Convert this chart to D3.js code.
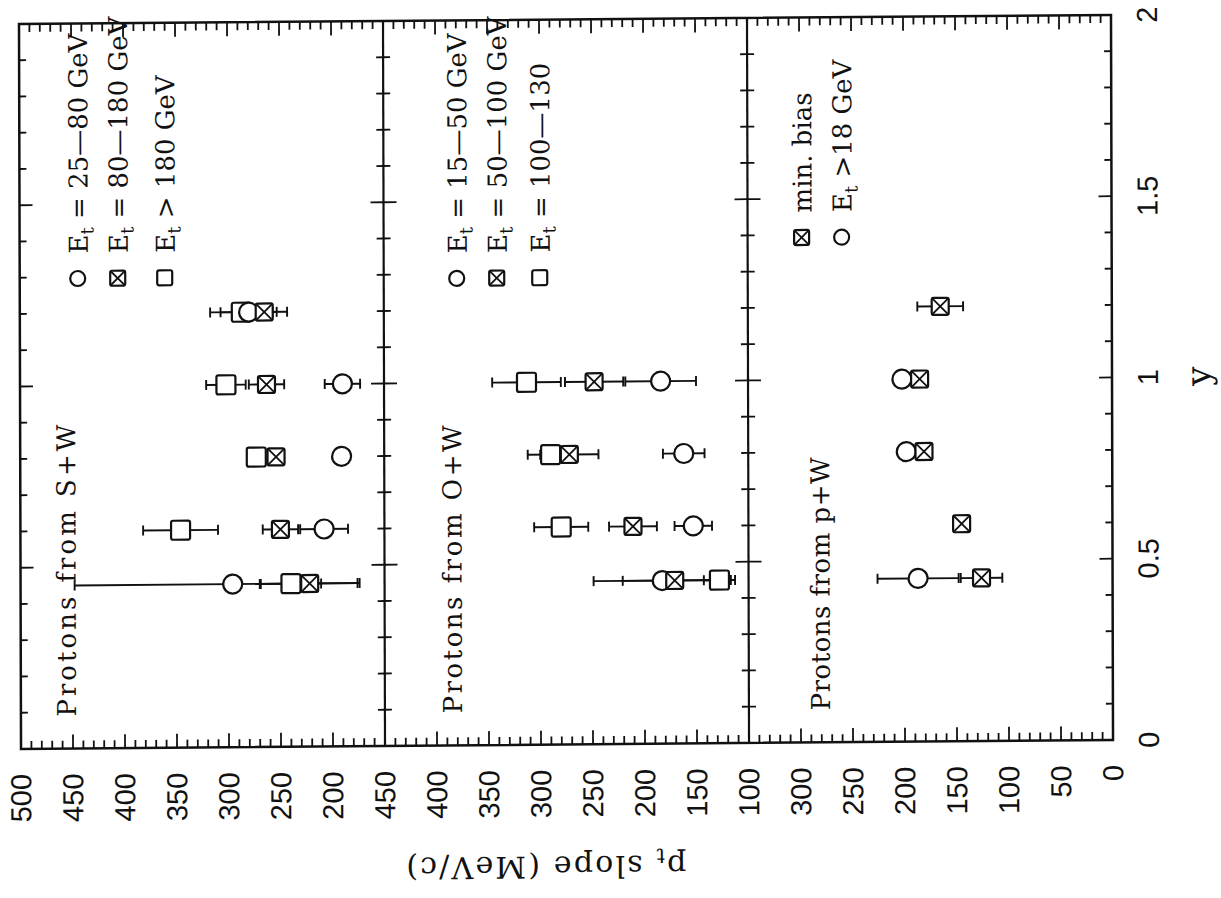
<!DOCTYPE html>
<html lang="en">
  <head>
    <meta charset="utf-8">
    <title>Proton pt slopes vs rapidity</title>
    <script src="https://d3js.org/d3.v7.min.js"></script>
    <style>
      body { margin: 0; background: white; }
      .num { font-family: "Liberation Sans", Arial, sans-serif; font-size: 29px; fill: #111; }
      .serif { font-family: "DejaVu Serif", serif; fill: #111; }
      line, rect, circle { stroke: #111; }
    </style>
  </head>
  <body>
    <script>
      var width = 1221, height = 898;

      // point = [rapidity, pt slope, err minus, err plus]
      // S+W
      var swEt25 = [[0.45, 296, 120, 152], [0.6, 208, 23, 23], [0.8, 191, 5, 5], [1.0, 190, 17, 17], [1.2, 280, 27, 27]];
      var swEt80 = [[0.45, 222, 48, 48], [0.6, 250, 17, 17], [0.8, 254, 6, 6], [1.0, 263, 17, 17], [1.2, 265, 22, 22]];
      var swEt180 = [[0.45, 240, 29, 29], [0.6, 346, 36, 36], [0.8, 273, 6, 6], [1.0, 302, 19, 19], [1.2, 287, 30, 30]];
      // O+W
      var owEt15 = [[0.45, 183, 66, 66], [0.6, 153, 18, 18], [0.8, 162, 20, 20], [1.0, 184, 34, 34]];
      var owEt50 = [[0.45, 171, 50, 50], [0.6, 211, 23, 23], [0.8, 272, 28, 28], [1.0, 248, 28, 28]];
      var owEt100 = [[0.45, 128, 15, 15], [0.6, 280, 26, 26], [0.8, 290, 22, 22], [1.0, 313, 33, 33]];
      // p+W
      var pwMinBias = [[0.45, 126, 20, 20], [0.6, 145, 5, 5], [0.8, 181, 5, 5], [1.0, 185, 5, 5], [1.2, 165, 22, 22]];
      var pwEt18 = [[0.45, 187, 39, 39], [0.8, 198, 5, 5], [1.0, 202, 5, 5]];

      var ptDomains = [[500, 150], [450, 100], [350, 0]];
      var ptLabels = [[500, 450, 400, 350, 300, 250, 200], [450, 400, 350, 300, 250, 200, 150, 100], [300, 250, 200, 150, 100, 50, 0]];
      var rapLabels = [0, 0.5, 1, 1.5, 2];
      var panelNames = ["Protons from S+W", "Protons from O+W", "Protons from p+W"];
      var legendS = ["Et = 25—80 GeV", "Et = 80—180 GeV", "Et > 180 GeV"];
      var legendO = ["Et = 15—50 GeV", "Et = 50—100 GeV", "Et = 100—130"];
      var legendP = ["min. bias", "Et >18 GeV"];

      var panels = [
        { series: [[swEt180, "square"], [swEt25, "circle"], [swEt80, "cross"]],
          legend: [["circle", legendS[0]], ["cross", legendS[1]], ["square", legendS[2]]],
          legX: [78, 118, 165], legY: 275, nameX: 75, nameLen: 292 },
        { series: [[owEt100, "square"], [owEt15, "circle"], [owEt50, "cross"]],
          legend: [["circle", legendO[0]], ["cross", legendO[1]], ["square", legendO[2]]],
          legX: [457, 497, 540], legY: 278, nameX: 461, nameLen: 288 },
        { series: [[pwEt18, "circle"], [pwMinBias, "cross"]],
          legend: [["cross", legendP[0]], ["circle", legendP[1]]],
          legX: [802, 842], legY: 240, nameX: 829, nameLen: 253 }
      ];

      var frameL = 20, frameR = 1112, frameT = 20, frameB = 745;
      var pw = (frameR - frameL) / 3;

      var svg = d3.select("body").append("svg")
        .attr("width", width)
        .attr("height", height);

      // the scan is slightly skewed
      var g = svg.append("g")
        .attr("transform", "matrix(1,-0.0083,0.0028,1,-1.06,4.17)");

      var yScale = d3.scaleLinear().domain([0, 2]).range([frameB, frameT]);

      function drawMarker(sel, type, s) {
        if (type === "circle") {
          sel.append("circle").attr("r", s / 2).attr("fill", "white").attr("stroke-width", 2.2);
        } else {
          sel.append("rect").attr("x", -s / 2).attr("y", -s / 2).attr("width", s).attr("height", s)
            .attr("rx", 2).attr("fill", "white").attr("stroke-width", 2.2);
          if (type === "cross") {
            sel.append("line").attr("x1", -s / 2).attr("y1", -s / 2).attr("x2", s / 2).attr("y2", s / 2).attr("stroke-width", 1.8);
            sel.append("line").attr("x1", -s / 2).attr("y1", s / 2).attr("x2", s / 2).attr("y2", -s / 2).attr("stroke-width", 1.8);
          }
        }
      }

      function etText(sel, str) {
        if (str.indexOf("Et") === 0) {
          sel.append("tspan").text("E");
          sel.append("tspan").attr("dy", 6).attr("font-size", "70%").text("t");
          sel.append("tspan").attr("dy", -6).text(str.slice(2));
        } else {
          sel.text(str);
        }
      }

      panels.forEach(function(p, i) {
        var x = d3.scaleLinear().domain(ptDomains[i]).range([frameL + i * pw, frameL + (i + 1) * pw]);
        var pg = g.append("g");
        var lo = d3.min(ptDomains[i]), hi = d3.max(ptDomains[i]);

        // pt ticks on both long edges
        var ptTicks = d3.range(lo, hi + 1, 10);
        pg.selectAll(".tb").data(ptTicks).enter().append("line")
          .attr("x1", d => x(d)).attr("x2", d => x(d))
          .attr("y1", frameB).attr("y2", d => frameB - (d % 50 === 0 ? 14 : 8))
          .attr("stroke-width", 1.8);
        pg.selectAll(".tt").data(ptTicks).enter().append("line")
          .attr("x1", d => x(d)).attr("x2", d => x(d))
          .attr("y1", frameT).attr("y2", d => frameT + (d % 50 === 0 ? 14 : 8))
          .attr("stroke-width", 1.8);

        // rapidity ticks on both panel edges
        var rk = d3.range(1, 20);
        var xl = frameL + i * pw, xr = frameL + (i + 1) * pw;
        pg.selectAll(".rl").data(rk).enter().append("line")
          .attr("x1", xl).attr("x2", d => xl + (d % 5 === 0 ? 13 : 7))
          .attr("y1", d => yScale(d / 10)).attr("y2", d => yScale(d / 10))
          .attr("stroke-width", 1.8);
        pg.selectAll(".rr").data(rk).enter().append("line")
          .attr("x1", xr).attr("x2", d => xr - (d % 5 === 0 ? 13 : 7))
          .attr("y1", d => yScale(d / 10)).attr("y2", d => yScale(d / 10))
          .attr("stroke-width", 1.8);

        // tick labels
        pg.selectAll(".pl").data(ptLabels[i]).enter().append("text")
          .attr("class", "num")
          .attr("x", d => x(d)).attr("y", 770)
          .attr("text-anchor", "end")
          .attr("dominant-baseline", "central")
          .attr("transform", d => "rotate(-90," + x(d) + ",770)")
          .text(d => d);

        // error bars
        p.series.forEach(function(s) {
          var eg = pg.append("g").attr("stroke-width", 1.9);
          var pts = s[0].filter(d => d[2] > 7);
          eg.selectAll(".eb").data(pts).enter().append("line")
            .attr("x1", d => x(d[1] + d[3])).attr("x2", d => x(d[1] - d[2]))
            .attr("y1", d => yScale(d[0])).attr("y2", d => yScale(d[0]));
          eg.selectAll(".c1").data(pts).enter().append("line")
            .attr("x1", d => x(d[1] + d[3])).attr("x2", d => x(d[1] + d[3]))
            .attr("y1", d => yScale(d[0]) - 5).attr("y2", d => yScale(d[0]) + 5);
          eg.selectAll(".c2").data(pts).enter().append("line")
            .attr("x1", d => x(d[1] - d[2])).attr("x2", d => x(d[1] - d[2]))
            .attr("y1", d => yScale(d[0]) - 5).attr("y2", d => yScale(d[0]) + 5);
        });

        // markers
        p.series.forEach(function(s) {
          var size = s[1] === "cross" ? 17 : 19;
          pg.selectAll(".m").data(s[0]).enter().append("g")
            .attr("transform", d => "translate(" + x(d[1]) + "," + yScale(d[0]) + ")")
            .each(function() { drawMarker(d3.select(this), s[1], size); });
        });

        // legend
        p.legend.forEach(function(l, k) {
          var lx = p.legX[k];
          var mg = pg.append("g").attr("transform", "translate(" + lx + "," + p.legY + ")");
          drawMarker(mg, l[0], 15);
          var t = pg.append("text").attr("class", "serif")
            .attr("font-size", 26)
            .attr("x", lx + 10).attr("y", p.legY - 25)
            .attr("transform", "rotate(-90," + (lx + 10) + "," + (p.legY - 25) + ")");
          etText(t, l[1]);
        });

        // panel title
        pg.append("text").attr("class", "serif")
          .attr("font-size", 26)
          .attr("x", p.nameX).attr("y", 713)
          .attr("textLength", p.nameLen)
          .attr("lengthAdjust", "spacing")
          .attr("transform", "rotate(-90," + p.nameX + ",713)")
          .text(panelNames[i]);
      });

      // frame and panel dividers
      g.append("rect")
        .attr("x", frameL).attr("y", frameT)
        .attr("width", frameR - frameL).attr("height", frameB - frameT)
        .attr("fill", "none").attr("stroke-width", 2.5);
      g.selectAll(".div").data([1, 2]).enter().append("line")
        .attr("x1", d => frameL + d * pw).attr("x2", d => frameL + d * pw)
        .attr("y1", frameT).attr("y2", frameB)
        .attr("stroke-width", 2.2);

      // rapidity labels
      g.selectAll(".rlab").data(rapLabels).enter().append("text")
        .attr("class", "num")
        .attr("x", 1158).attr("y", d => yScale(d))
        .attr("text-anchor", "middle")
        .attr("transform", d => "rotate(-90,1158," + yScale(d) + ")")
        .text(d => d);

      // axis titles
      g.append("text").attr("class", "serif")
        .attr("font-size", 34)
        .attr("x", 1210).attr("y", 382)
        .attr("text-anchor", "middle")
        .attr("transform", "rotate(-90,1210,382)")
        .text("y");

      var yt = g.append("text").attr("class", "serif")
        .attr("font-size", 30)
        .attr("x", 545).attr("y", 857)
        .attr("text-anchor", "middle")
        .attr("textLength", 280)
        .attr("lengthAdjust", "spacing")
        .attr("transform", "rotate(180,545,857)");
      yt.append("tspan").text("p");
      yt.append("tspan").attr("dy", 7).attr("font-size", "70%").text("t");
      yt.append("tspan").attr("dy", -7).text(" slope (MeV/c)");
    </script>
  </body>
</html>
